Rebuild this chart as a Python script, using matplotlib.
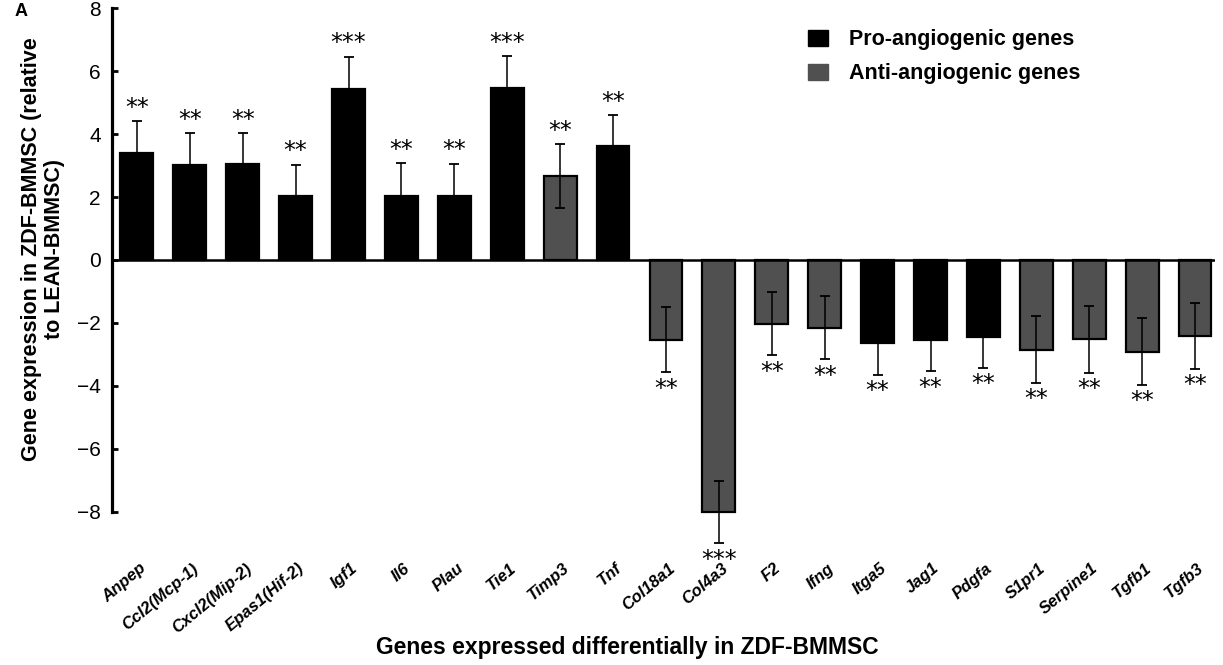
import matplotlib
matplotlib.use('Agg')
import matplotlib.pyplot as plt
import matplotlib.transforms as mtransforms
from matplotlib.patches import Patch
import numpy as np

plt.rcParams['font.family'] = ['Liberation Sans', 'DejaVu Sans']

genes = ['Anpep', 'Ccl2(Mcp-1)', 'Cxcl2(Mip-2)', 'Epas1(Hif-2)', 'Igf1', 'Il6', 'Plau',
         'Tie1', 'Timp3', 'Tnf', 'Col18a1', 'Col4a3', 'F2', 'Ifng', 'Itga5', 'Jag1',
         'Pdgfa', 'S1pr1', 'Serpine1', 'Tgfb1', 'Tgfb3']
expr = [3.40, 3.02, 3.05, 2.04, 5.43, 2.04, 2.02, 5.45, 2.66, 3.61,
        -2.54, -8.01, -2.03, -2.16, -2.63, -2.54, -2.44, -2.85, -2.52, -2.91, -2.41]
sem = [1.02, 1.02, 0.99, 0.99, 1.03, 1.03, 1.04, 1.03, 1.02, 0.99,
       1.03, 1.00, 1.00, 1.00, 1.02, 1.00, 0.98, 1.06, 1.06, 1.06, 1.05]
kind = ['pro', 'pro', 'pro', 'pro', 'pro', 'pro', 'pro', 'pro', 'anti', 'pro',
        'anti', 'anti', 'anti', 'anti', 'pro', 'pro', 'pro', 'anti', 'anti', 'anti', 'anti']
stars = ['**', '**', '**', '**', '***', '**', '**', '***', '**', '**',
         '**', '***', '**', '**', '**', '**', '**', '**', '**', '**', '**']
yticks = [-8, -6, -4, -2, 0, 2, 4, 6, 8]

colors = {'pro': '#000000', 'anti': '#505050'}

fig = plt.figure(figsize=(12.23, 6.65), dpi=100)
ax = fig.add_axes([0.0916, 0.188, 0.902, 0.802])

x = np.arange(len(genes))
ax.bar(x, expr, width=0.62, color=[colors[k] for k in kind],
       edgecolor='black', linewidth=1.6, zorder=2)
ax.errorbar(x, expr, yerr=sem, fmt='none', ecolor='black', elinewidth=1.1,
            capsize=3.5, capthick=1.3, zorder=3, clip_on=False)

# significance marks above / below the error bars
for xi, v, e, s in zip(x, expr, sem, stars):
    yc = v + e + 0.42 if v > 0 else v - e - 0.52
    ax.text(xi, yc, s, ha='center', va='center', fontsize=17,
            family='DejaVu Sans', clip_on=False)

ax.axhline(0, color='black', lw=1.8, zorder=4)

ax.set_xlim(-0.47, 20.38)
ax.set_ylim(-8.9, 8.05)
ax.set_yticks(yticks)
ax.set_yticklabels([str(t).replace('-', '\u2212') for t in yticks], fontsize=15)
ax.spines['left'].set_bounds(-8, 8)
ax.spines['left'].set_linewidth(2.3)
for sp in ['top', 'right', 'bottom']:
    ax.spines[sp].set_visible(False)
ax.tick_params(axis='y', direction='in', length=4, width=2, pad=8)
ax.tick_params(axis='x', length=0, pad=19)

ax.set_xticks(x)
ax.set_xticklabels(genes, rotation=40, ha='right', va='center',
                   rotation_mode='anchor', fontsize=12, fontweight='bold',
                   fontstyle='italic')
shift = mtransforms.ScaledTranslation(5 / 72, 0, fig.dpi_scale_trans)
for lab in ax.get_xticklabels():
    lab.set_transform(lab.get_transform() + shift)

fig.text(0.035, 0.625, 'Gene expression in ZDF-BMMSC (relative\nto LEAN-BMMSC)',
         rotation=90, ha='center', va='center', multialignment='center',
         fontsize=15.5, fontweight='bold', linespacing=1.15)
fig.text(0.513, 0.026, 'Genes expressed differentially in ZDF-BMMSC',
         ha='center', va='center', fontsize=16.5, fontweight='bold')
fig.text(0.012, 0.982, 'A', ha='left', va='center', fontsize=13, fontweight='bold')

handles = [Patch(facecolor=colors['pro'], edgecolor=colors['pro'], label='Pro-angiogenic genes'),
           Patch(facecolor=colors['anti'], edgecolor=colors['anti'], label='Anti-angiogenic genes')]
fig.legend(handles=handles, loc='upper left', bbox_to_anchor=(0.645, 0.985),
           frameon=False, prop={'size': 15.5, 'weight': 'bold'},
           handlelength=0.9, handleheight=0.8, handletextpad=1.0, labelspacing=0.6)

fig.savefig('out.png', dpi=100)
